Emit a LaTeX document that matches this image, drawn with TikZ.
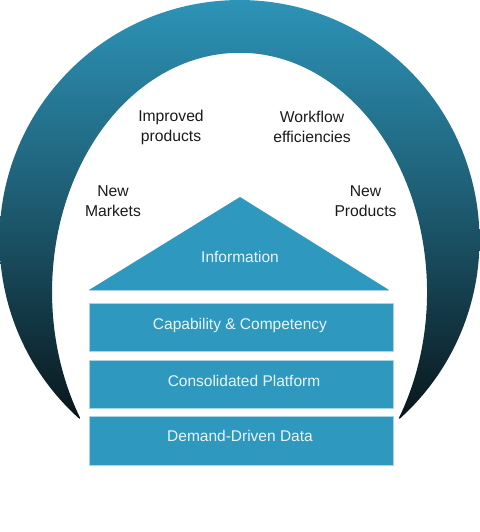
\documentclass[tikz,border=0pt]{standalone}
\usepackage{fontspec}
\setmainfont{Liberation Sans}
\definecolor{boxblue}{HTML}{2E98BF}
\definecolor{edgeblue}{HTML}{A8D5E6}
\definecolor{textwhite}{HTML}{EAF5F9}
\definecolor{labelblack}{HTML}{1A1A1A}
\definecolor{archtop}{HTML}{2F9BC1}
\definecolor{archmid}{HTML}{1E5E74}
\definecolor{archbot}{HTML}{09161C}
\begin{document}
\begin{tikzpicture}[x=1pt,y=1pt,
  lbl/.style={font=\fontsize{15.7}{20}\selectfont, text=labelblack, align=center, inner sep=0pt},
  wlbl/.style={font=\fontsize{15.5}{19}\selectfont, text=textwhite, anchor=base, inner sep=0pt},
  layer/.style={fill=boxblue, draw=edgeblue, line width=0.8pt, minimum width=304pt, minimum height=48pt, inner sep=0pt, anchor=south west}]
\useasboundingbox (0,0) rectangle (479,532);
% arch
\shade[top color=archtop, bottom color=archbot, middle color=archmid]
  (79.35,113.24) arc[start angle=228.14, end angle=-48.14, radius=240]
  -- (398.9,114) arc[start angle=-31.79, end angle=211.79, x radius=187.5, y radius=239.2]
  -- cycle;
% roof
\coordinate (tl) at (89,242);
\coordinate (tr) at (389,242);
\coordinate (apex) at (240,335);
\fill[boxblue] (tl) -- (apex) -- (tr) -- cycle;
\draw[edgeblue, line width=0.8pt] (tl) -- (tr);
\node[wlbl] (info) at (240,269.4) {Information};
% layers
\node[layer] (cap) at (89,180) {};
\node[layer] (cons) at (89,123) {};
\node[layer, minimum height=49pt] (dem) at (89,66) {};
\node[wlbl] (capt) at (240,202.4) {Capability \& Competency};
\node[wlbl] (const) at (244,145.4) {Consolidated Platform};
\node[wlbl] (demt) at (240,90.4) {Demand-Driven Data};
% outer labels
\node[lbl] (imp) at (171,405) {Improved\\products};
\node[lbl] (wf) at (312,405) {Workflow\\efficiencies};
\node[lbl] (nm) at (113,330.5) {New\\Markets};
\node[lbl] (np) at (365.5,330.5) {New\\Products};
\end{tikzpicture}
\end{document}
